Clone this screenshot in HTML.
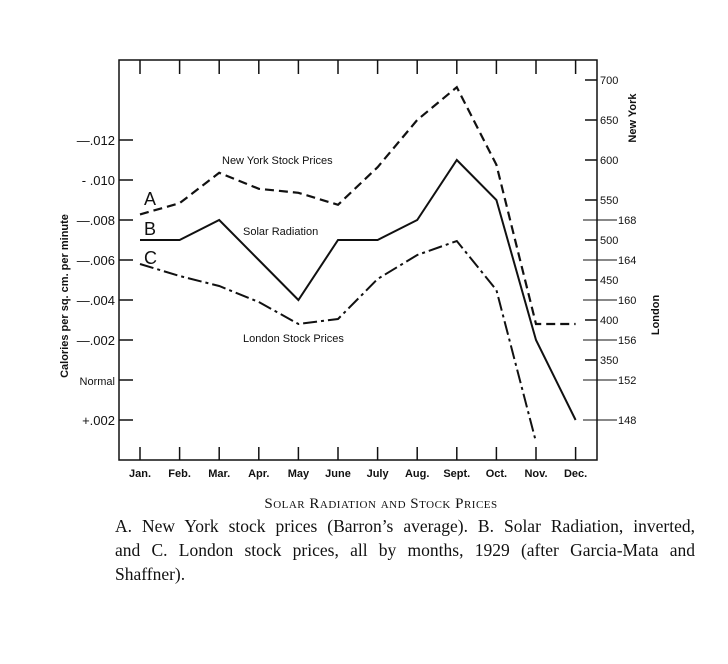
<!DOCTYPE html>
<html><head><meta charset="utf-8"><style>
body{margin:0;background:#fff;width:728px;height:664px;overflow:hidden}
svg{position:absolute;left:0;top:0}
.c{position:absolute;font-family:"Liberation Serif",serif;color:#111}
.ln{position:absolute;left:115px;width:580px;font-family:"Liberation Serif",serif;color:#111;font-size:17.5px;white-space:nowrap}
.j{text-align:justify;text-align-last:justify}
</style></head><body>
<svg width="728" height="664" font-family="Liberation Sans, sans-serif" fill="#111">
<g id="frame"></g><g id="marks"></g><g id="labels"></g>
</svg>
<div class="c" style="left:0;width:762px;top:496px;text-align:center;font-size:15px;font-variant:small-caps;letter-spacing:0.5px">Solar Radiation and Stock Prices</div>
<div>
<div class="ln j" style="top:516px;white-space:normal">A. New York stock prices (Barron’s average). B. Solar Radiation, inverted,</div>
<div class="ln j" style="top:540px;white-space:normal">and C. London stock prices, all by months, 1929 (after Garcia-Mata and</div>
<div class="ln" style="top:564px">Shaffner).</div>
</div>
<script>
const months=["Jan.","Feb.","Mar.","Apr.","May","June","July","Aug.","Sept.","Oct.","Nov.","Dec."];
const newYork=[532,546,584,564,559,544,591,650,691,594,395,395];
const solar=[0.007,0.007,0.008,0.006,0.004,0.007,0.007,0.008,0.011,0.009,0.002,-0.002];
const london=[163.6,162.4,161.4,159.8,157.6,158.1,162.1,164.5,165.9,161,145.8];
const leftTicks=[0.012,0.010,0.008,0.006,0.004,0.002,0,-0.002];
const leftLabels=["—.012","- .010","—.008","—.006","—.004","—.002","Normal","+.002"];
const nyTicks=[700,650,600,550,500,450,400,350];
const ldTicks=[168,164,160,156,152,148];
const NS="http://www.w3.org/2000/svg";
const L=119,R=597,T=60,B=460;
const x=i=>140+i*39.6;
const yS=v=>380-v*20000;
const yNY=v=>80+(700-v)*0.8;
const yLD=v=>220+(168-v)*10;
function mk(p,tag,a,name,txt){const e=document.createElementNS(NS,tag);for(const k in a)e.setAttribute(k,a[k]);


if(txt!=null)e.textContent=txt;document.getElementById(p).appendChild(e);return e;}
mk('frame','rect',{x:L,y:T,width:R-L,height:B-T,fill:'none',stroke:'#111','stroke-width':1.5},'plot-frame');
months.forEach((m,i)=>{
 mk('frame','line',{x1:x(i),x2:x(i),y1:T,y2:T+14,stroke:'#111','stroke-width':1.5},'top-tick');
 mk('frame','line',{x1:x(i),x2:x(i),y1:B-13,y2:B,stroke:'#111','stroke-width':1.5},'bottom-tick');
 mk('labels','text',{x:x(i),y:477,'font-size':11,'text-anchor':'middle','font-weight':'bold'},'x-label',m);
});
leftTicks.forEach((v,i)=>{
 mk('frame','line',{x1:L,x2:L+14,y1:yS(v),y2:yS(v),stroke:'#111','stroke-width':1.5},'left-tick');
 mk('labels','text',{x:L-4,y:yS(v)+5,'font-size':i==6?11:13,'text-anchor':'end'},'left-label',leftLabels[i]);
});
nyTicks.forEach(v=>{
 mk('frame','line',{x1:R-12,x2:R,y1:yNY(v),y2:yNY(v),stroke:'#111','stroke-width':1.5},'ny-tick');
 mk('labels','text',{x:R+3,y:yNY(v)+4,'font-size':11},'ny-label',v);
});
ldTicks.forEach(v=>{
 mk('frame','line',{x1:R-14,x2:R+20,y1:yLD(v),y2:yLD(v),stroke:'#111','stroke-width':1},'london-tick');
 mk('labels','text',{x:R+21,y:yLD(v)+4,'font-size':11},'london-label',v);
});
mk('labels','text',{x:0,y:0,'font-size':11,'font-weight':'bold',transform:'translate(68,296) rotate(-90)','text-anchor':'middle'},'left-axis-title','Calories per sq. cm. per minute');
mk('labels','text',{x:0,y:0,'font-size':11,'font-weight':'bold',transform:'translate(636,118) rotate(-90)','text-anchor':'middle'},'ny-axis-title','New York');
mk('labels','text',{x:0,y:0,'font-size':11,'font-weight':'bold',transform:'translate(659,315) rotate(-90)','text-anchor':'middle'},'london-axis-title','London');
const pts=(arr,f)=>arr.map((v,i)=>x(i)+','+f(v)).join(' ');
mk('marks','polyline',{points:pts(newYork,yNY),fill:'none',stroke:'#111','stroke-width':2.2,'stroke-dasharray':'9,5'},'new-york-line');
mk('marks','polyline',{points:pts(solar,yS),fill:'none',stroke:'#111','stroke-width':2},'solar-line');
mk('marks','polyline',{points:pts(london,yLD),fill:'none',stroke:'#111','stroke-width':2,'stroke-dasharray':'14,4,3,4'},'london-line');
mk('labels','text',{x:222,y:164,'font-size':11},'ny-annotation','New York Stock Prices');
mk('labels','text',{x:243,y:235,'font-size':11},'solar-annotation','Solar Radiation');
mk('labels','text',{x:243,y:342,'font-size':11},'london-annotation','London Stock Prices');
mk('labels','text',{x:144,y:205,'font-size':18},'label-a','A');
mk('labels','text',{x:144,y:235,'font-size':18},'label-b','B');
mk('labels','text',{x:144,y:264,'font-size':18},'label-c','C');
</script>
</body></html>
